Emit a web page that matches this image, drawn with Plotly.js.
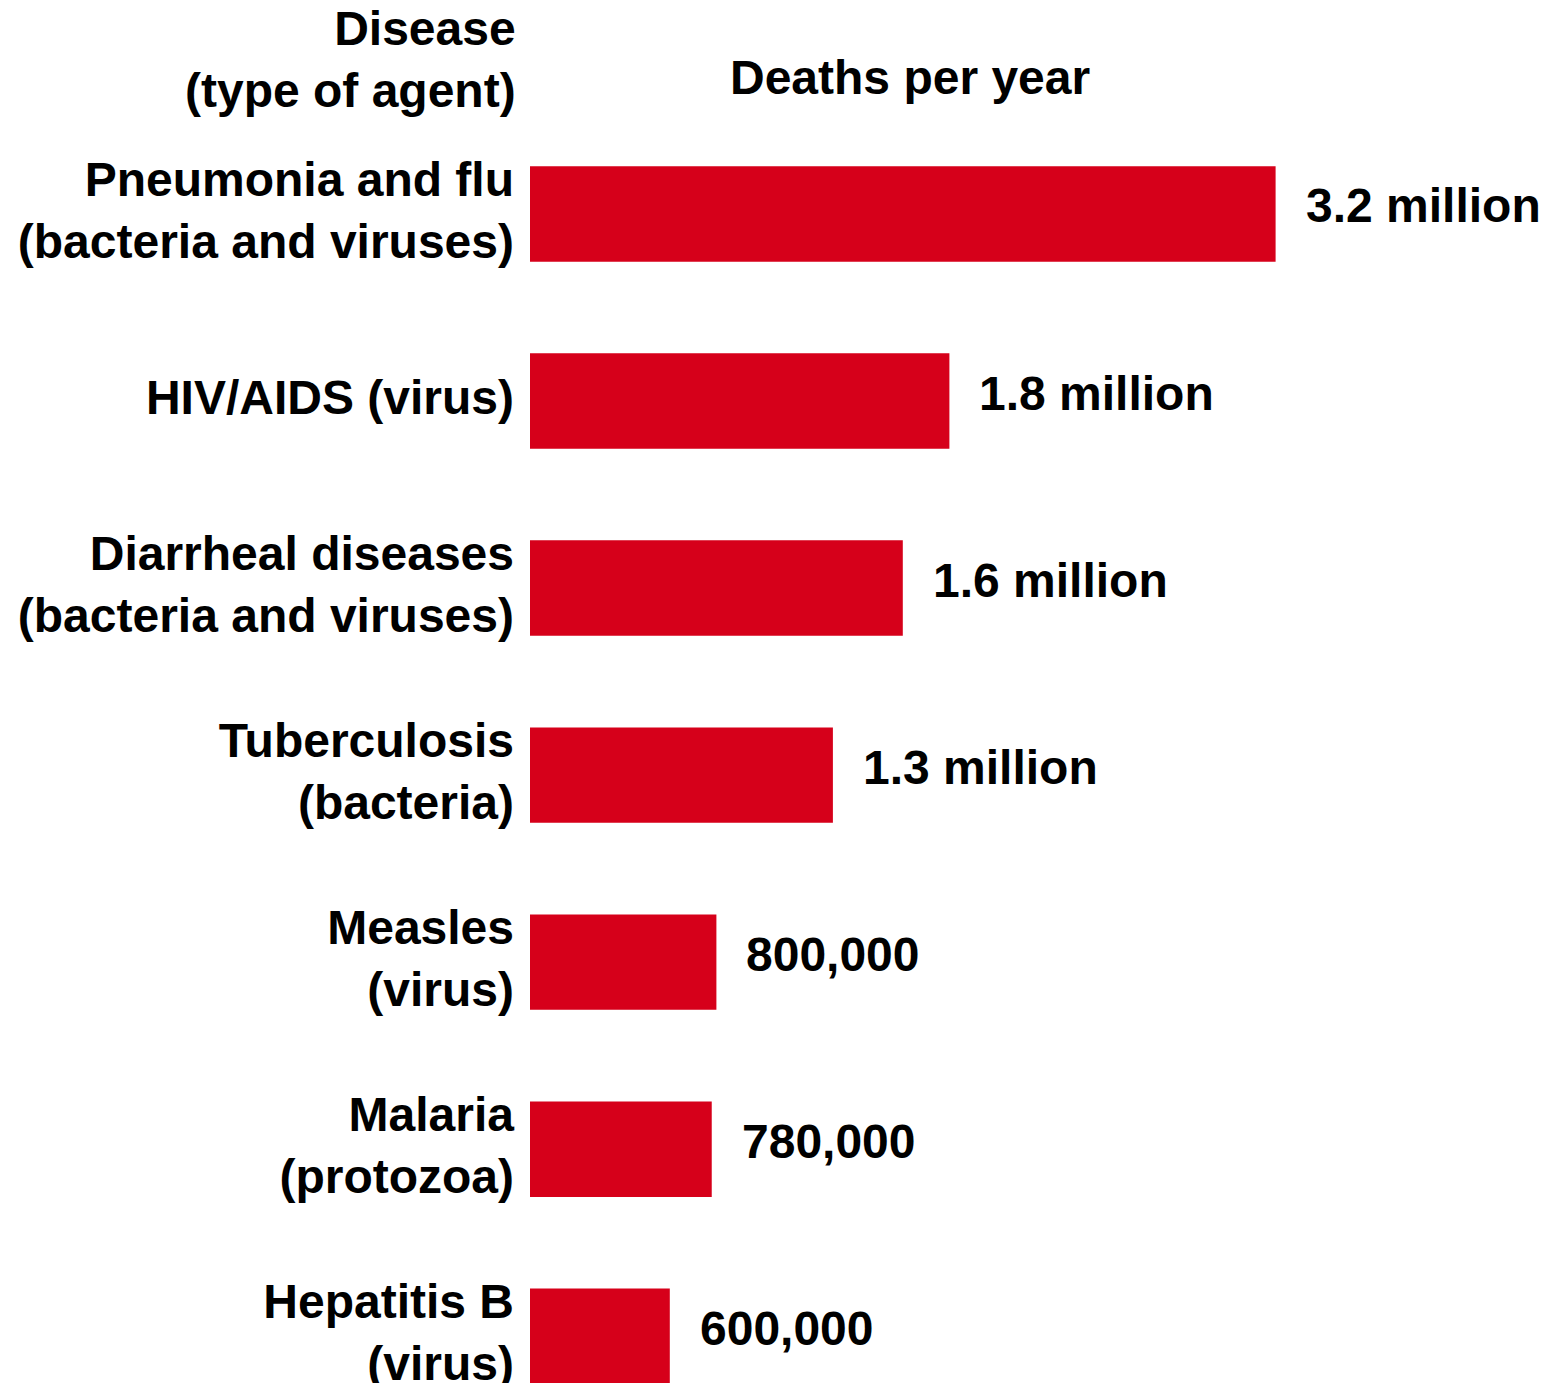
<!DOCTYPE html>
<html>
<head>
<meta charset="utf-8">
<script src="https://cdn.plot.ly/plotly-3.0.1.min.js"></script>
<style>html,body{margin:0;padding:0;background:#fff;}#chart{width:1558px;height:1383px;}</style>
</head>
<body>
<div id="chart"></div>
<script>
// Data
const diseases = [
  "Pneumonia and flu<br>(bacteria and viruses)",
  "HIV/AIDS (virus)",
  "Diarrheal diseases<br>(bacteria and viruses)",
  "Tuberculosis<br>(bacteria)",
  "Measles<br>(virus)",
  "Malaria<br>(protozoa)",
  "Hepatitis B<br>(virus)"
];
const deathsMillions = [3.2, 1.8, 1.6, 1.3, 0.8, 0.78, 0.6];
const valueLabels = ["3.2 million", "1.8 million", "1.6 million", "1.3 million", "800,000", "780,000", "600,000"];
const leftHeader = "Disease<br>(type of agent)";
const rightHeader = "Deaths per year";

const FONT = '"Liberation Sans", Arial, sans-serif';
const RED = "#D6001A";
const FS = 48;

const trace = {
  type: "bar",
  orientation: "h",
  x: deathsMillions,
  y: diseases,
  marker: {color: RED, line: {width: 0}},
  hoverinfo: "skip"
};

const annotations = deathsMillions.map((v, i) => ({
  x: v, y: diseases[i], xref: "x", yref: "y",
  text: valueLabels[i], showarrow: false,
  xanchor: "left", yanchor: "middle", xshift: 28, yshift: 8,
  font: {family: FONT, size: FS, color: "#000", weight: "bold"}
}));
annotations.push({
  xref: "paper", yref: "paper", x: -0.012, y: 0.957,
  text: leftHeader, showarrow: false, align: "right",
  xanchor: "right", yanchor: "middle",
  font: {family: FONT, size: FS, color: "#000", weight: "bold"}
});
annotations.push({
  xref: "paper", yref: "paper", x: 0.3696, y: 0.944,
  text: rightHeader, showarrow: false,
  xanchor: "center", yanchor: "middle",
  font: {family: FONT, size: FS, color: "#000", weight: "bold"}
});

const layout = {
  width: 1558, height: 1383,
  margin: {l: 530, r: 0, t: 0, b: 0, pad: 0},
  paper_bgcolor: "#fff", plot_bgcolor: "#fff",
  showlegend: false,
  bargap: 0.49,
  xaxis: {range: [0, 4.412], visible: false, fixedrange: true},
  yaxis: {
    type: "category",
    range: [6.25, -1.144],
    showgrid: false, zeroline: false, showline: false,
    ticks: "", ticklabelstandoff: 15, ticklabelshift: 4,
    tickfont: {family: FONT, size: FS, color: "#000", weight: "bold"}
  },
  annotations: annotations
};

Plotly.newPlot("chart", [trace], layout, {displayModeBar: false, staticPlot: true});
</script>
</body>
</html>
